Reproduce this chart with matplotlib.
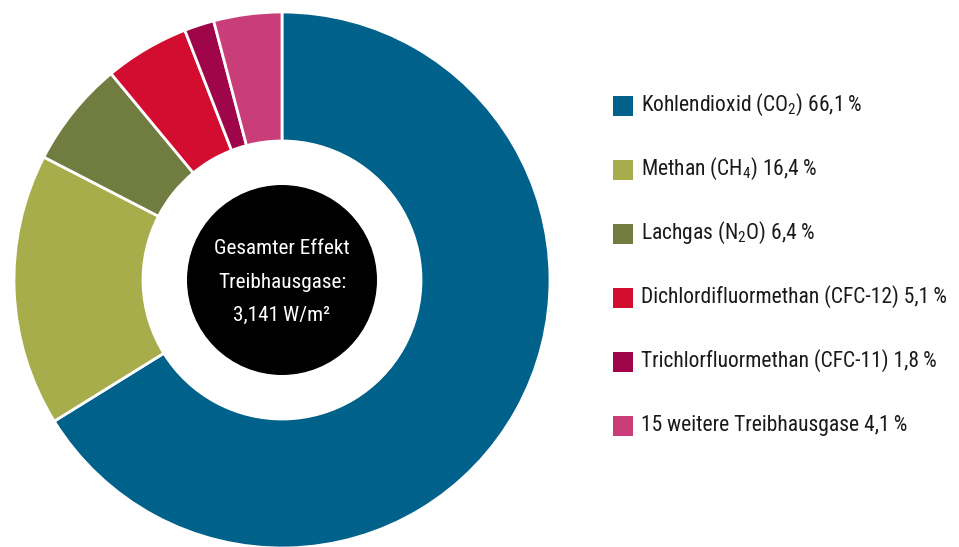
import matplotlib
matplotlib.use("Agg")
import matplotlib.pyplot as plt
from matplotlib.patches import Circle, Rectangle

FONT = "Roboto Condensed"
plt.rcParams['font.family'] = [FONT, 'DejaVu Sans']
plt.rcParams['font.weight'] = 'normal'
plt.rcParams['mathtext.fontset'] = 'custom'
plt.rcParams['mathtext.rm'] = FONT
plt.rcParams['mathtext.it'] = FONT
plt.rcParams['mathtext.default'] = 'rm'

labels = [
    "Kohlendioxid (CO$_2$) 66,1\u2009%",
    "Methan (CH$_4$) 16,4\u2009%",
    "Lachgas (N$_2$O) 6,4\u2009%",
    "Dichlordifluormethan (CFC-12) 5,1\u2009%",
    "Trichlorfluormethan (CFC-11) 1,8\u2009%",
    "15 weitere Treibhausgase 4,1\u2009%",
]
values = [66.1, 16.4, 6.4, 5.1, 1.8, 4.1]
colors = ["#00628B", "#A8AD4B", "#717C40", "#D20D2F", "#9E0649", "#C93D78"]
center_lines = ["Gesamter Effekt", "Treibhausgase:", "3,141\u2009W/m²"]

W, H = 959, 547
fig = plt.figure(figsize=(W / 100, H / 100), dpi=100)
ax = fig.add_axes([0, 0, 1, 1])

cx, cy = 282, H - 280
R = 268
ax.pie(values, colors=colors, startangle=90, counterclock=False,
       center=(cx, cy), radius=R, frame=True,
       wedgeprops=dict(width=R - 139, edgecolor='white', linewidth=2))
ax.set_xlim(0, W)
ax.set_ylim(0, H)
ax.set_aspect('equal')
ax.axis('off')

ax.add_patch(Circle((cx, cy), 95, facecolor='black', edgecolor='none', zorder=5))
for i, line in enumerate(center_lines):
    ax.text(cx, H - (249 + i * 33), line, color='white', fontsize=15.3,
            fontweight='normal', ha='center', va='center', zorder=6)

for i, (lab, col) in enumerate(zip(labels, colors)):
    y = H - (106 + i * 64)
    ax.add_patch(Rectangle((613, y - 10), 20, 20, facecolor=col, edgecolor='none'))
    ax.text(641, y + 1, lab, fontsize=15.5, fontweight='normal',
            ha='left', va='center', color='#1a1a1a')

fig.savefig("out.png", dpi=100)
